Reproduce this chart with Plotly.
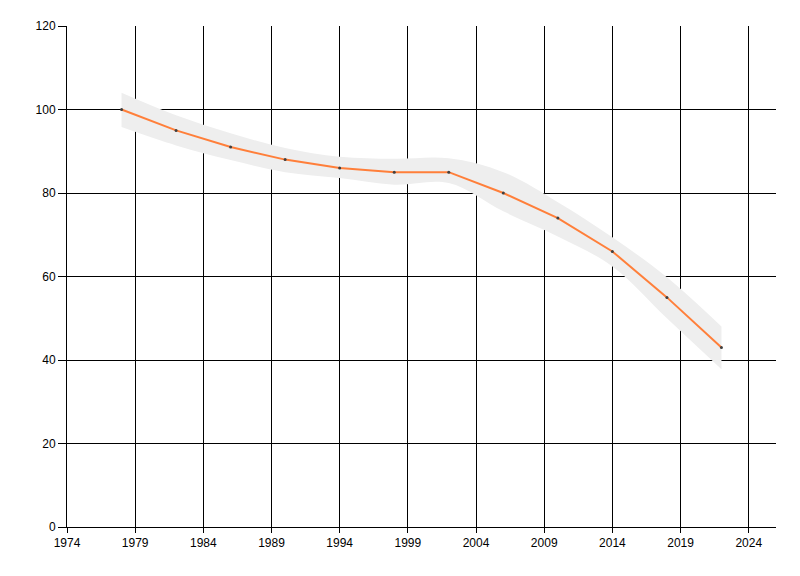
import plotly.graph_objects as go

years = [1978, 1982, 1986, 1990, 1994, 1998, 2002, 2006, 2010, 2014, 2018, 2022]
values = [100, 95, 91, 88, 86, 85, 85, 80, 74, 66, 55, 43]
upper = [104, 98.6, 94.3, 90.8, 88.7, 88.2, 88.3, 85, 77.8, 69.4, 59.8, 48]
lower = [95.8, 91.4, 87.9, 85, 83.6, 82, 82.4, 75.6, 69.6, 62.4, 50.0, 37.8]

x_ticks = list(range(1974, 2025, 5))
y_ticks = list(range(0, 121, 20))

fig = go.Figure()
fig.add_trace(go.Scatter(x=years, y=lower, mode="lines",
                         line=dict(width=0, shape="spline", smoothing=1),
                         hoverinfo="skip", showlegend=False))
fig.add_trace(go.Scatter(x=years, y=upper, mode="lines", fill="tonexty",
                         fillcolor="#EEEEEE",
                         line=dict(width=0, shape="spline", smoothing=1),
                         hoverinfo="skip", showlegend=False))
fig.add_trace(go.Scatter(x=years, y=values, mode="lines+markers",
                         line=dict(color="#FF7F3A", width=2),
                         marker=dict(size=3, color="#404040"),
                         showlegend=False))

font = dict(family="Liberation Sans, Arial, sans-serif", size=12, color="#000000")
fig.update_layout(
    width=800, height=576,
    margin=dict(l=59, r=32, t=18, b=57),
    paper_bgcolor="white", plot_bgcolor="white",
    font=font,
    xaxis=dict(range=[1974, 2026], tickvals=x_ticks, ticktext=[str(v) for v in x_ticks],
               showgrid=True, gridcolor="#000000", gridwidth=1,
               showline=True, linecolor="#000000", linewidth=1,
               ticks="outside", ticklen=5, tickcolor="#000000", zeroline=False,
               tickfont=font, automargin=False),
    yaxis=dict(range=[0, 120], tickvals=y_ticks,
               showgrid=True, gridcolor="#000000", gridwidth=1,
               showline=True, linecolor="#000000", linewidth=1,
               ticks="outside", ticklen=8, tickcolor="#000000", zeroline=False,
               tickfont=font, automargin=False),
)

fig.write_html("out.html")
